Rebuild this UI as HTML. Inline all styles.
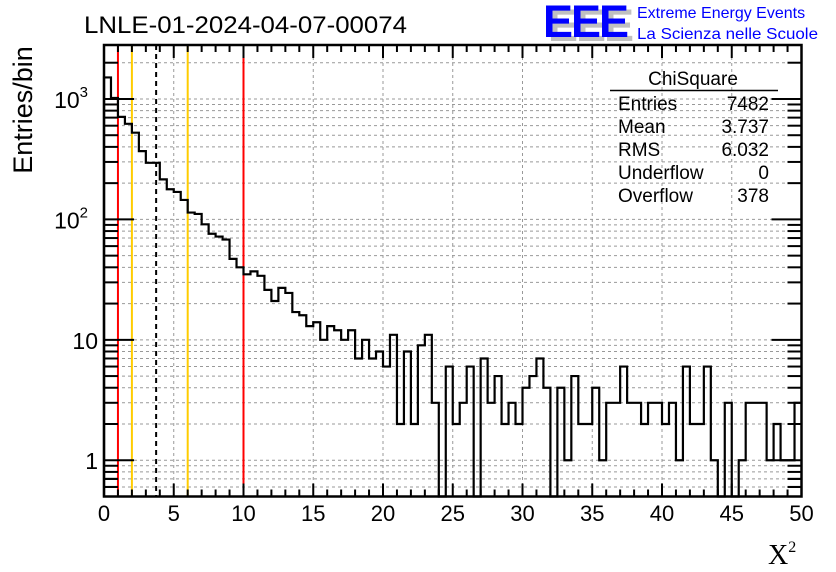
<!DOCTYPE html>
<html><head><meta charset="utf-8">
<style>
html,body{margin:0;padding:0;background:#fff;}
svg{display:block;font-family:"Liberation Sans",sans-serif;}
</style></head>
<body>
<svg id="chart" width="836" height="572" viewBox="0 0 836 572" xmlns="http://www.w3.org/2000/svg">
  <rect width="836" height="572" fill="#fff"/>
  <g id="grid"></g>
  <g id="vlines"></g>
  <g id="hist"></g>
  <g id="axes"></g>
  <text x="84" y="33" font-size="24" textLength="323" lengthAdjust="spacingAndGlyphs">LNLE-01-2024-04-07-00074</text>
  <g>
    <text x="548" y="41" font-size="45" font-weight="bold" fill="#c0c0c0" letter-spacing="-2">EEE</text>
    <text x="543" y="37" font-size="45" font-weight="bold" fill="#0000ff" letter-spacing="-2">EEE</text>
    <text x="637" y="18" font-size="16" fill="#0000ff">Extreme Energy Events</text>
    <text x="637" y="39" font-size="16" fill="#0000ff" textLength="181" lengthAdjust="spacingAndGlyphs">La Scienza nelle Scuole</text>
  </g>
  <g font-size="19">
    <text x="693" y="85" text-anchor="middle">ChiSquare</text>
    <line x1="610" y1="90.5" x2="778" y2="90.5" stroke="#000" stroke-width="1.5"/>
    <text x="618" y="110">Entries</text><text x="769" y="110" text-anchor="end">7482</text>
    <text x="618" y="133">Mean</text><text x="769" y="133" text-anchor="end">3.737</text>
    <text x="618" y="156">RMS</text><text x="769" y="156" text-anchor="end">6.032</text>
    <text x="618" y="179">Underflow</text><text x="769" y="179" text-anchor="end">0</text>
    <text x="618" y="202">Overflow</text><text x="769" y="202" text-anchor="end">378</text>
  </g>
  <text transform="translate(32,110) rotate(-90)" text-anchor="middle" font-size="27">Entries/bin</text>
  <text x="768" y="564" font-size="28" font-family="Liberation Serif, serif">X<tspan font-size="16" dy="-12">2</tspan></text>
</svg>
<script>
const binCounts = [1510,1020,710,622,525,369,295,295,215,178,169,145,114,111,91,76,72,68,47,40,
  35,37,34,26,21,27,24.5,17,16,13,14,10,13,12,10,12,7,10,7,8,
  6,11,2,8,2,9,11,3,0,6,2,3,6,0,7,3,5,2,3,2,
  4,5,7,4,0,4,1,5,2,2,4,1,3,3,6,3,3,2,3,3,
  2,3,1,6,2,2,6,1,0,3,0,1,3,3,3,1,2,1,1,3];
const xTickLabels = ["0","5","10","15","20","25","30","35","40","45","50"];
const cutLinesX = [1,2,3.737,6,10];
const cutColors = ["#ff0000","#ffcc00","#000","#ffcc00","#ff0000"];

const NS="http://www.w3.org/2000/svg";
const X0=104, X1=801.5, YT=45, YB=496.5;
const xMin=0, xMax=50, logMin=Math.log10(0.5), logMax=(460.5-45)/120.5;
function xs(v){return X0+(v-xMin)/(xMax-xMin)*(X1-X0);}
function ys(v){if(v<=0)return YB;const l=Math.log10(v);return YB-(l-logMin)/(logMax-logMin)*(YB-YT);}
function mk(tag,attrs,parent){const e=document.createElementNS(NS,tag);for(const k in attrs)e.setAttribute(k,attrs[k]);parent.appendChild(e);return e;}

const grid=document.getElementById('grid');
for(let i=1;i<10;i++){
  const x=xs(i*5);
  const g=mk('line',{x1:x,y1:YT,x2:x,y2:YB,stroke:'#999','stroke-dasharray':'3,3','stroke-width':1},grid);
  
  
}
const yGridVals=[];
for(let d=-1;d<=3;d++)for(let m=1;m<10;m++){const v=m*Math.pow(10,d);if(v>=0.5&&ys(v)>YT+1)yGridVals.push(v);}
yGridVals.forEach(v=>{
  const y=ys(v);
  const g=mk('line',{x1:X0,y1:y,x2:X1,y2:y,stroke:'#999','stroke-dasharray':'3,3','stroke-width':1},grid);
  
  
});

const vl=document.getElementById('vlines');
cutLinesX.forEach((c,i)=>{
  const x=xs(c);
  const l=mk('line',{x1:x,y1:YT,x2:x,y2:YB,stroke:cutColors[i],'stroke-width':2},vl);
  if(i===2)l.setAttribute('stroke-dasharray','5,4');
  
  
});

const bw=(xMax-xMin)/binCounts.length;
let d='M'+xs(0)+','+YB;
binCounts.forEach((c,i)=>{
  const y=ys(c);
  d+=' L'+xs(i*bw)+','+y+' L'+xs((i+1)*bw)+','+y;
});
const hp=mk('path',{d:d,fill:'none',stroke:'#000','stroke-width':2.2},document.getElementById('hist'));



const ax=document.getElementById('axes');
const fr=mk('rect',{x:X0,y:YT,width:X1-X0,height:YB-YT,fill:'none',stroke:'#000','stroke-width':2.5},ax);


for(let i=0;i<=50;i++){
  const x=xs(i);const len=(i%5===0)?13:7;
  mk('line',{x1:x,y1:YB,x2:x,y2:YB-len,stroke:'#000','stroke-width':2},ax);
  mk('line',{x1:x,y1:YT,x2:x,y2:YT+len,stroke:'#000','stroke-width':2},ax);
}
xTickLabels.forEach((t,i)=>{
  const e=mk('text',{x:xs(i*5),y:521,'text-anchor':'middle','font-size':22},ax);
  e.textContent=t;
  
  
});
yGridVals.concat([0.6,0.7,0.8,0.9].filter(v=>!yGridVals.includes(v))).forEach(v=>{
  const y=ys(v);const major=[1,10,100,1000].includes(v);const len=major?30:14;
  mk('line',{x1:X0,y1:y,x2:X0+len,y2:y,stroke:'#000','stroke-width':2},ax);
  mk('line',{x1:X1,y1:y,x2:X1-len,y2:y,stroke:'#000','stroke-width':2},ax);
});
[[1,'1',null],[10,'10',null],[100,'10','2'],[1000,'10','3']].forEach(([v,b,sup])=>{
  const e=mk('text',{x:sup?88:98,y:ys(v)+9,'text-anchor':'end','font-size':23},ax);
  e.textContent=b;
  if(sup){const s=mk('tspan',{'font-size':15,dy:-11},e);s.textContent=sup;}
  
  
});
</script>
</body></html>
